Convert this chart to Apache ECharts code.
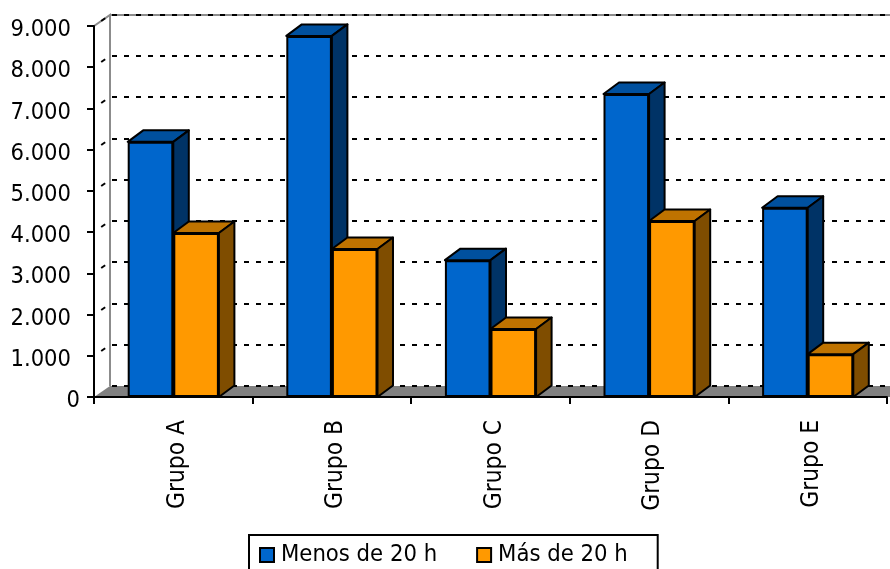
<!DOCTYPE html>
<html>
<head>
<meta charset="utf-8">
<style>html,body{margin:0;padding:0;background:#fff;overflow:hidden}#c{width:890px;height:569px}</style>
<script src="https://cdn.jsdelivr.net/npm/echarts@6/dist/echarts.min.js"></script>
</head>
<body>
<div id="c"></div>
<script>
const categories = ['Grupo A', 'Grupo B', 'Grupo C', 'Grupo D', 'Grupo E'];
const menos = [6190, 8760, 3320, 7350, 4590];
const mas = [3980, 3590, 1650, 4270, 1040];
const yTicks = [0, 1000, 2000, 3000, 4000, 5000, 6000, 7000, 8000, 9000];
const yTickLabels = ['0', '1.000', '2.000', '3.000', '4.000', '5.000', '6.000', '7.000', '8.000', '9.000'];

const FONT = '"DejaVu Sans Condensed", "DejaVu Sans", sans-serif';
const WALL = {dx: 16, dy: -11};
const BAR = {dx: 15.5, dy: -11.5, frac: 0.2875};

const chart = echarts.init(document.getElementById('c'), null, {renderer: 'canvas'});

function depthSeries(name, data, sideSign, topColor, sideColor, z) {
  return {
    name: name, type: 'custom', z: z, silent: true,
    data: data.map((v, i) => [i, v]),
    encode: {x: 0, y: 1},
    renderItem: function (params, api) {
      const i = api.value(0), v = api.value(1);
      const top = api.coord([i, v]), base = api.coord([i, 0]);
      const w = api.size([1, 0])[0] * BAR.frac;
      const x0 = sideSign < 0 ? top[0] - w : top[0];
      const x1 = x0 + w;
      const st = c => ({fill: c, stroke: '#000', lineWidth: 2, lineJoin: 'round'});
      return {type: 'group', children: [
        {type: 'polygon', shape: {points: [[x0, top[1]], [x0 + BAR.dx, top[1] + BAR.dy], [x1 + BAR.dx, top[1] + BAR.dy], [x1, top[1]]]}, style: st(topColor)},
        {type: 'polygon', shape: {points: [[x1, top[1]], [x1 + BAR.dx, top[1] + BAR.dy], [x1 + BAR.dx, base[1] + BAR.dy], [x1, base[1]]]}, style: st(sideColor)}
      ]};
    }
  };
}

chart.setOption({
  animation: false,
  backgroundColor: '#fff',
  grid: {left: 94, right: 3, top: 26, bottom: 172, containLabel: false},
  legend: {
    data: ['Menos de 20 h', 'Más de 20 h'],
    left: 249, top: 535,
    padding: [8, 30, 10, 10],
    itemWidth: 14, itemHeight: 14, itemGap: 39,
    borderColor: '#000', borderWidth: 2, backgroundColor: '#fff',
    icon: 'rect',
    textStyle: {fontFamily: FONT, fontSize: 23.6, color: '#000', padding: [0, 0, 0, 2]}
  },
  xAxis: {
    type: 'category', data: categories, z: 10,
    axisLine: {show: true, lineStyle: {color: '#000', width: 2}},
    axisTick: {show: true, length: 7, alignWithLabel: false, lineStyle: {color: '#000', width: 2}},
    axisLabel: {rotate: 90, margin: 23, fontFamily: FONT, fontSize: 24.3, color: '#000', verticalAlign: 'top', lineHeight: 8},
    splitLine: {show: false}
  },
  yAxis: {
    type: 'value', min: 0, max: 9000, interval: 1000, z: 10,
    axisLine: {show: true, lineStyle: {color: '#000', width: 2}},
    axisTick: {show: true, length: 7, lineStyle: {color: '#000', width: 2}},
    axisLabel: {
      margin: 14, color: '#000', fontFamily: FONT, fontSize: 23.5, verticalAlign: 'top',
      formatter: v => {
        const s = yTickLabels[yTicks.indexOf(v)];
        return v === 0 ? '{z|' + s + '}' : '{k|' + s + '}';
      },
      rich: {
        z: {fontFamily: FONT, fontSize: 23.5, color: '#000', lineHeight: 8},
        k: {fontFamily: FONT, fontSize: 23.5, color: '#000', lineHeight: 8, padding: [0, 9, 0, 0]}
      }
    },
    splitLine: {show: false}
  },
  series: [
    {
      name: 'walls', type: 'custom', z: 1, silent: true,
      data: [[0, 0]], encode: {x: 0, y: 1},
      renderItem: function (params, api) {
        const cs = params.coordSys;
        const bottom = cs.y + cs.height, right = cs.x + cs.width, left = cs.x, top = cs.y;
        const grey = {stroke: '#8c8c8c', lineWidth: 2, fill: null};
        return {type: 'group', children: [
          {type: 'polygon', shape: {points: [[left, bottom], [left + WALL.dx, bottom + WALL.dy], [right + WALL.dx, bottom + WALL.dy], [right + WALL.dx, bottom]]}, style: {fill: '#808080'}},
          {type: 'polyline', shape: {points: [[left, top], [left + WALL.dx, top + WALL.dy], [left + WALL.dx, bottom + WALL.dy]]}, style: grey},
          {type: 'line', shape: {x1: left + WALL.dx, y1: top + WALL.dy, x2: right + WALL.dx, y2: top + WALL.dy}, style: {stroke: '#8c8c8c', lineWidth: 2}}
        ]};
      }
    },
    {
      name: 'gridlines', type: 'custom', z: 2, silent: true,
      data: yTicks.map(v => [0, v]), encode: {x: 0, y: 1},
      renderItem: function (params, api) {
        const cs = params.coordSys, y = Math.round(api.coord([0, api.value(1)])[1] + WALL.dy);
        const children = [{
          type: 'line',
          shape: {x1: cs.x + WALL.dx + 2, y1: y, x2: cs.x + cs.width - 2, y2: y},
          style: {stroke: '#000', lineWidth: 2, lineDash: [5, 7]}
        }];
        if (api.value(1) > 0) {
          children.push({
            type: 'line',
            shape: {x1: cs.x + WALL.dx * 0.45, y1: y - WALL.dy * 0.55, x2: cs.x + WALL.dx * 0.7, y2: y - WALL.dy * 0.3},
            style: {stroke: '#000', lineWidth: 2}
          });
        }
        return {type: 'group', children: children};
      }
    },
    depthSeries('menosDepth', menos, -1, '#00509E', '#003366', 3),
    {
      name: 'Menos de 20 h', type: 'bar', z: 4, data: menos, barGap: 0, barWidth: (BAR.frac * 100) + '%',
      itemStyle: {color: '#0066CC', borderColor: '#000', borderWidth: 2}
    },
    depthSeries('masDepth', mas, 1, '#BF7300', '#7F4D00', 5),
    {
      name: 'Más de 20 h', type: 'bar', z: 6, data: mas, barGap: 0, barWidth: (BAR.frac * 100) + '%',
      itemStyle: {color: '#FF9900', borderColor: '#000', borderWidth: 2}
    }
  ]
});
</script>
</body>
</html>
